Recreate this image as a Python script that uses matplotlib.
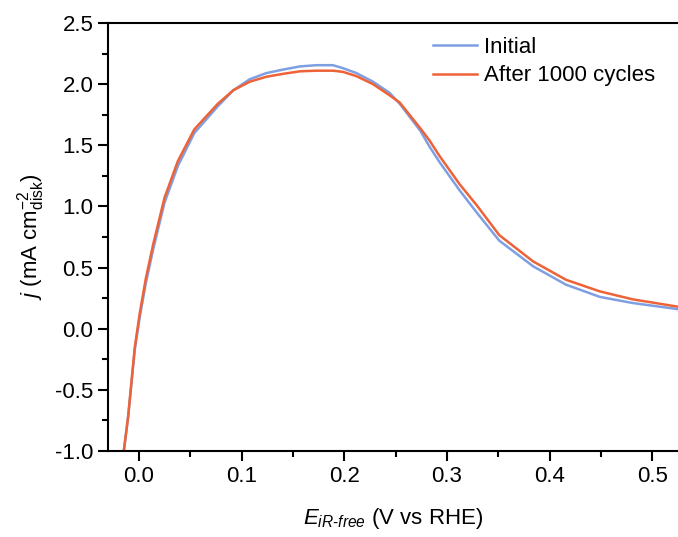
import matplotlib
matplotlib.use("Agg")
import matplotlib.pyplot as plt
from matplotlib.ticker import MultipleLocator

plt.rcParams['font.family'] = ['Liberation Sans', 'DejaVu Sans']
plt.rcParams['mathtext.fontset'] = 'custom'
plt.rcParams['mathtext.rm'] = 'Liberation Sans'
plt.rcParams['mathtext.it'] = 'Liberation Sans:italic'

# potential (V vs RHE) and current density (mA cm-2)
x_initial = [-0.0146, -0.0104, -0.0071, -0.0039, 0.001, 0.0068, 0.014, 0.025,
             0.038, 0.054, 0.077, 0.092, 0.108, 0.124, 0.141, 0.157, 0.173,
             0.189, 0.199, 0.212, 0.228, 0.244, 0.254, 0.274, 0.283, 0.293,
             0.3125, 0.329, 0.351, 0.384, 0.416, 0.449, 0.481, 0.525]
j_initial = [-1.00, -0.72, -0.44, -0.17, 0.10, 0.37, 0.65, 1.03,
             1.33, 1.60, 1.82, 1.95, 2.04, 2.09, 2.12, 2.145, 2.155,
             2.155, 2.13, 2.09, 2.02, 1.93, 1.84, 1.62, 1.49, 1.36,
             1.13, 0.95, 0.72, 0.51, 0.36, 0.26, 0.21, 0.16]

x_cycled = [-0.0146, -0.0104, -0.0071, -0.0039, 0.001, 0.0068, 0.014, 0.025,
            0.038, 0.054, 0.077, 0.092, 0.108, 0.124, 0.141, 0.157, 0.173,
            0.189, 0.199, 0.212, 0.228, 0.244, 0.254, 0.274, 0.283, 0.293,
            0.3125, 0.329, 0.351, 0.384, 0.416, 0.449, 0.481, 0.525]
j_cycled = [-1.00, -0.72, -0.43, -0.15, 0.13, 0.41, 0.69, 1.07,
            1.37, 1.63, 1.84, 1.95, 2.02, 2.06, 2.085, 2.105, 2.11,
            2.11, 2.10, 2.065, 2.00, 1.91, 1.85, 1.64, 1.54, 1.41,
            1.18, 1.01, 0.765, 0.55, 0.40, 0.305, 0.24, 0.18]

fig = plt.figure(figsize=(6.78, 5.37), dpi=100)
ax = fig.add_axes([108/678, 1 - 451/537, 1 - 108/678, (451 - 23)/537])

ax.plot(x_initial, j_initial, color='#7f9fe3', lw=1.8, label='Initial',
        solid_joinstyle='round')
ax.plot(x_cycled, j_cycled, color='#ee6237', lw=1.8, label='After 1000 cycles',
        solid_joinstyle='round')

ax.set_xlim(-0.030, 0.525)
ax.set_ylim(-1.0, 2.5)
ax.xaxis.set_major_locator(MultipleLocator(0.1))
ax.xaxis.set_minor_locator(MultipleLocator(0.05))
ax.yaxis.set_major_locator(MultipleLocator(0.5))
ax.yaxis.set_minor_locator(MultipleLocator(0.25))
ax.xaxis.set_major_formatter(lambda v, p: f'{v:.1f}')
ax.yaxis.set_major_formatter(lambda v, p: f'{v:.1f}')

ax.spines['right'].set_visible(False)
for s in ['left', 'bottom', 'top']:
    ax.spines[s].set_linewidth(1.5)
ax.tick_params(which='major', direction='out', length=7, width=1.5, labelsize=16)
ax.tick_params(which='minor', direction='out', length=4, width=1.5)
ax.tick_params(top=False, right=False, which='both')

ax.set_xlabel(r'$E_{iR\text{-}free}$ (V vs RHE)', fontsize=16, labelpad=14)
ax.set_ylabel(r'$j$ (mA cm$^{-2}_{\rm disk}$)', fontsize=16, labelpad=6)

ax.legend(loc='upper right', bbox_to_anchor=(0.995, 1.015), frameon=False,
          fontsize=16, handlelength=2.0, handletextpad=0.3, labelspacing=0.35)

fig.savefig('out.png', dpi=100)
